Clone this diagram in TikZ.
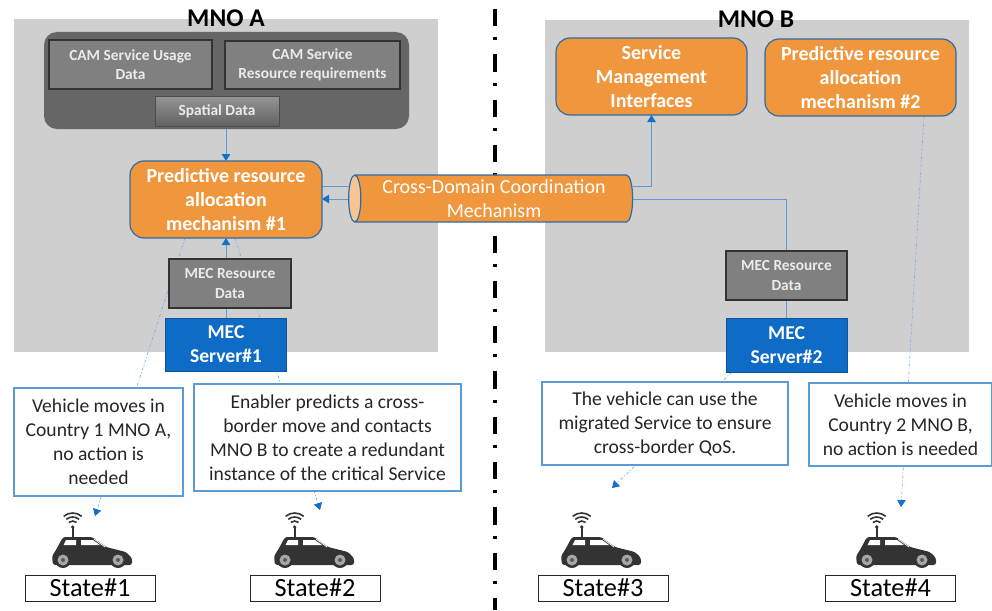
\documentclass[tikz,border=0pt]{standalone}
\usepackage{fontspec}
\setmainfont{Carlito}
\usetikzlibrary{arrows.meta,shapes.geometric}
\pgfdeclarelayer{panel}\pgfdeclarelayer{lines}
\pgfsetlayers{panel,lines,main}
\definecolor{panelgrey}{HTML}{CFCFCF}
\definecolor{orangefill}{HTML}{F0963C}
\definecolor{orangeline}{HTML}{2F6CA5}
\definecolor{linkblue}{HTML}{5B9BD5}
\definecolor{tipblue}{HTML}{1270CC}
\definecolor{serverblue}{HTML}{0F6CC6}
\definecolor{carcol}{HTML}{333333}
\tikzset{
 base/.style={inner sep=0pt,outer sep=0pt,align=center},
 panelbox/.style={fill=panelgrey,draw=none},
 datagroup/.style={fill=black!60,rounded corners=13pt},
 databox/.style={base,fill=black!50,draw=black!80,line width=1.2pt,text=white!92!black,font=\fontsize{15.4}{19.5}\bfseries\selectfont},
 spatialbox/.style={databox,top color=black!42,bottom color=black!62,draw=black!70,line width=1pt},
 orangebox/.style={base,fill=orangefill,draw=orangeline,line width=1.2pt,rounded corners=14pt,text=white,font=\fontsize{20}{24}\bfseries\selectfont},
 cyl/.style={base,cylinder,shape border rotate=180,aspect=0.32,draw=orangeline,line width=1.2pt,cylinder uses custom fill,cylinder body fill=orangefill,cylinder end fill=orangefill!55!white,text=white,font=\fontsize{20}{24}\selectfont},
 serverbox/.style={base,fill=serverblue,draw=serverblue!80!black,line width=.8pt,text=white,font=\fontsize{19.6}{24}\bfseries\selectfont},
 notebox/.style={base,fill=white,draw=linkblue,line width=1.3pt,text=black!85,font=\fontsize{19.6}{24}\selectfont},
 statebox/.style={base,fill=white,draw=black!85,line width=1pt,text=black,font=\fontsize{26.3}{28}\selectfont},
 title/.style={base,text=black,font=\fontsize{25.5}{26}\bfseries\selectfont},
 link/.style={draw=linkblue,line width=1pt},
 linkarrow/.style={link,-{Triangle[length=7pt,width=8.5pt,color=tipblue]}},
 dotlink/.style={draw=tipblue!55!white,line width=.7pt,dash pattern=on 3pt off 2pt on 1pt off 2pt},
 dotarrow/.style={dotlink,-{Triangle[length=7pt,width=8.5pt,color=tipblue]}},
 car/.pic={
  \draw[carcol,line width=1.6pt] (20.7,-28) -- (20.7,-38);
  \fill[carcol] (20.7,-38) circle (1.8pt);
  \foreach \r in {6,10,14}{
    \draw[carcol,line width=1.6pt] ([shift={(50:\r pt)}]20.7,-38) arc[start angle=50,end angle=130,radius=\r pt];}
  \fill[carcol,rounded corners=2.5pt] (1,0) -- (0,-9) -- (4,-15) -- (11,-28) -- (40,-28) -- (54,-18) -- (74,-13) -- (80,-7) -- (80,0) -- cycle;
  \fill[white] (11.5,-20) -- (14,-25) -- (24,-25) -- (24,-20) -- cycle;
  \fill[white] (29,-20) -- (29,-25) -- (41,-25) -- (48,-20) -- cycle;
  \draw[white,line width=.7pt] (42,-26) -- (53,-18);
  \foreach \w in {11,66}{
   \fill[carcol] (\w,-5) circle (8pt);
   \fill[black!35] (\w,-5) circle (5.5pt);
   \fill[black!65] (\w,-5) circle (2pt);}
 }
}
\begin{document}
\begin{tikzpicture}[x=1pt,y=-1pt]
\useasboundingbox (0,0) rectangle (992,610);
% nodes
\node[databox,minimum width=163pt,minimum height=49pt] (usage) at (130.5,64.5) {CAM Service Usage\\Data};
\node[databox,minimum width=175pt,minimum height=48pt] (req) at (312.5,65) {CAM Service\\Resource requirements};
\node[spatialbox,minimum width=124pt,minimum height=30pt] (spatial) at (217,111.5) {Spatial Data};
\node[orangebox,minimum width=192pt,minimum height=77pt] (pred1) at (226,199.5) {Predictive resource\\allocation\\mechanism \#1};
\node[orangebox,minimum width=191pt,minimum height=77pt] (svc) at (651.5,76.5) {Service\\Management\\Interfaces};
\node[orangebox,minimum width=191pt,minimum height=77pt] (pred2) at (860.5,77.5) {Predictive resource\\allocation\\mechanism \#2};
\node[cyl,minimum width=47pt,minimum height=284pt] (cdcm) at (494,198.5) {Cross-Domain Coordination\\Mechanism};
\node[databox,minimum width=122pt,minimum height=49pt] (res1) at (230,283.5) {MEC Resource\\Data};
\node[databox,minimum width=121pt,minimum height=49pt] (res2) at (786.5,275.5) {MEC Resource\\Data};
\node[serverbox,minimum width=121pt,minimum height=53pt] (srv1) at (226,344.5) {MEC\\Server\#1};
\node[serverbox,minimum width=121pt,minimum height=54pt] (srv2) at (786.5,345) {MEC\\Server\#2};
\node[notebox,minimum width=169pt,minimum height=108pt] (n1) at (98.5,442) {Vehicle moves in\\Country 1 MNO A,\\no action is\\needed};
\node[notebox,minimum width=267pt,minimum height=107pt] (n2) at (327.5,437.5) {Enabler predicts a cross-\\border move and contacts\\MNO B to create a redundant\\instance of the critical Service};
\node[notebox,minimum width=246pt,minimum height=83pt] (n3) at (665,423.5) {The vehicle can use the\\migrated Service to ensure\\cross-border QoS.};
\node[notebox,minimum width=183pt,minimum height=83pt] (n4) at (900.5,424.5) {Vehicle moves in\\Country 2 MNO B,\\no action is needed};
\node[statebox,minimum width=130pt,minimum height=26pt] (s1) at (90,588) {State\#1};
\node[statebox,minimum width=130pt,minimum height=26pt] (s2) at (315,588) {State\#2};
\node[statebox,minimum width=130pt,minimum height=26pt] (s3) at (603,588) {State\#3};
\node[statebox,minimum width=130pt,minimum height=26pt] (s4) at (890.5,588) {State\#4};
\coordinate (c1) at (95,516);
\coordinate (c2) at (320,510);
\coordinate (c3) at (612,488);
\coordinate (c4) at (901,507);
\pic at (52,565) {car};
\pic at (274,565) {car};
\pic at (561,565) {car};
\pic at (856,565) {car};
% panels
\begin{pgfonlayer}{panel}
\fill[panelbox] (14,19) rectangle (438,352);
\fill[panelbox] (545,20) rectangle (969,352);
\fill[datagroup] (44,32) rectangle (409,129);
\coordinate (dg) at (226,129);
\draw[black,line width=4pt,dash pattern=on 17.3pt off 11pt on 3pt off 14pt] (495,9) -- (495,610);
\end{pgfonlayer}
\node[title] (mnoa) at (226,18) {MNO A};
\node[title] (mnob) at (756,19) {MNO B};
% connectors
\begin{pgfonlayer}{lines}
\draw[linkarrow] (dg) -- (pred1.north);
\draw[linkarrow] (srv1.north) -- (pred1.south);
\draw[link] (srv2.north) -- (res2.south);
\draw[link] (cdcm.west |- 0,186) -- (pred1.east |- 0,186);
\draw[linkarrow] (cdcm.west |- 0,199) -- (pred1.east |- 0,199);
\draw[linkarrow] (cdcm.east |- 0,186) -| (svc.south);
\draw[link] (cdcm.east |- 0,199) -| (res2.north);
\draw[dotarrow] (pred1.south -| 185,0) -- (c1);
\draw[dotarrow] (pred1.south -| 235,0) -- (c2);
\draw[dotarrow] (srv2.south -| 732,0) -- (c3);
\draw[dotarrow] (pred2.south -| 924,0) -- (c4);
\end{pgfonlayer}
\end{tikzpicture}
\end{document}
